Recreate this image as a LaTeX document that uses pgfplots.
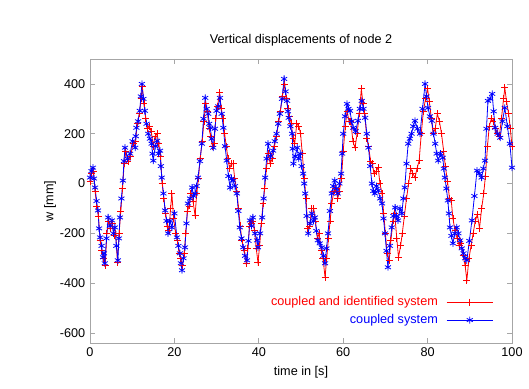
\documentclass[border=0pt]{standalone}
\usepackage{fontspec}
\setmainfont{Liberation Sans}
\usepackage{pgfplots}
\usepackage{pgfplotstable}
\pgfplotsset{compat=1.18}
\pgfplotstableread{
0 10
0.4 40
0.8 50
1.2 -30
1.6 -90
2.0 -130
2.4 -230
2.8 -270
3.2 -300
3.6 -330
4.0 -200
4.4 -150
4.8 -180
5.3 -160
5.7 -210
6.1 -200
6.5 -316
6.9 -200
7.3 -110
7.7 -20
8.1 80
8.5 130
9.0 90
9.6 110
10.2 160
10.8 170
11.2 240
11.7 280
12.1 340
12.4 390
12.8 320
13.2 260
13.6 220
14.0 230
14.5 210
15.0 150
15.4 190
15.9 200
16.3 160
16.7 110
17.1 0
17.5 -60
17.9 -120
18.3 -170
18.7 -190
19.1 -100
19.4 -40
19.8 -140
20.3 -200
20.7 -230
21.1 -280
21.5 -300
21.9 -330
22.3 -280
22.7 -200
23.1 -110
23.5 -90
23.9 -40
24.4 -70
24.9 -128
25.3 -40
25.7 20
26.1 100
26.6 170
27.0 250
27.4 320
27.8 290
28.2 220
28.6 190
29.0 150
29.4 160
29.8 260
30.2 310
30.7 364
31.1 300
31.5 260
31.9 200
32.3 150
32.7 100
33.1 60
33.5 80
33.9 80
34.3 20
34.8 -30
35.2 -100
35.6 -170
36.0 -230
36.5 -270
37.0 -320
37.4 -260
37.8 -170
38.2 -160
38.6 -150
39.0 -190
39.4 -260
39.8 -316
40.2 -250
40.6 -160
41.0 -80
41.4 -20
41.8 60
42.2 120
42.7 80
43.2 100
43.7 150
44.2 190
44.7 250
45.1 290
45.6 350
46.0 400
46.5 340
46.9 300
47.3 270
47.7 240
48.1 180
48.5 160
49.0 240
49.5 230
49.9 200
50.3 120
50.8 20
51.2 -60
51.6 -180
52.1 -170
52.5 -100
53.0 -100
53.4 -150
53.9 -220
54.3 -200
54.8 -270
55.2 -300
55.7 -376
56.1 -300
56.5 -220
56.9 -150
57.3 -80
57.8 -30
58.2 -20
58.7 -60
59.1 -30
59.6 20
60.0 130
60.5 230
60.9 290
61.4 250
61.8 250
62.3 170
62.8 144
63.3 200
63.8 280
64.3 380
64.7 320
65.1 280
65.6 180
66.0 150
66.5 90
66.9 80
67.3 40
67.8 50
68.3 64
68.7 0
69.2 -40
69.6 -120
70.0 -200
70.4 -280
70.9 -310
71.3 -230
71.8 -150
72.2 -120
72.7 -220
73.1 -296
73.6 -250
74.0 -200
74.5 -130
75.0 -60
75.5 0
76.0 60
76.5 40
77.0 24
77.5 60
78.0 92
78.5 200
79.0 290
79.5 340
80.0 380
80.4 330
80.9 260
81.3 200
81.8 220
82.3 280
82.8 250
83.3 200
83.8 130
84.2 70
84.7 10
85.2 -60
85.6 -68
86.0 -140
86.5 -190
87.0 -220
87.5 -250
87.9 -240
88.4 -290
88.9 -330
89.3 -388
89.8 -300
90.3 -250
90.8 -200
91.3 -150
91.8 -124
92.3 -180
92.8 -100
93.3 -40
93.7 30
94.2 150
94.6 230
95.1 260
95.5 250
96.0 220
96.5 200
97.0 190
97.5 260
98.0 340
98.3 384
98.7 330
99.2 280
99.6 220
100 150
}\redData
\pgfplotstableread{
0 24
0.35 50
0.7 64
0.95 20
1.2 -16
1.55 -70
1.9 -108
2.15 -180
2.4 -216
2.75 -250
3.1 -296
3.3 -280
3.5 -320
3.9 -220
4.3 -136
4.75 -170
5.2 -148
5.55 -200
5.9 -176
6.25 -250
6.6 -308
6.85 -220
7.1 -136
7.45 -60
7.8 12
8.05 90
8.3 144
8.9 100
9.5 120
10.1 170
10.7 144
10.85 190
11.0 224
11.4 250
11.8 292
12.05 350
12.3 400
12.65 340
13.0 292
13.4 240
13.8 200
14.2 180
14.6 160
14.8 120
15.0 92
15.45 150
15.9 172
16.25 120
16.6 132
16.8 70
17.0 24
17.4 -40
17.8 -108
18.15 -150
18.5 -200
18.95 -150
19.4 -176
20.0 -120
20.6 -216
20.95 -250
21.3 -280
21.55 -320
21.8 -348
22.15 -300
22.5 -256
22.85 -160
23.2 -80
23.7 -60
24.2 -16
24.55 -50
24.9 -40
25.25 -10
25.6 24
26.05 90
26.5 160
26.9 260
27.3 344
27.65 300
28.0 280
28.25 240
28.5 224
28.85 180
29.2 144
29.6 220
30.0 292
30.4 310
30.8 344
31.2 280
31.6 224
32.0 150
32.4 92
32.8 30
33.2 -16
33.55 20
33.9 12
34.35 -10
34.8 -40
35.15 -110
35.5 -176
35.9 -220
36.3 -256
36.75 -290
37.2 -308
37.55 -230
37.9 -148
38.25 -170
38.6 -136
39.1 -200
39.6 -228
39.8 -256
40.3 -200
40.8 -136
41.15 -60
41.5 24
41.85 100
42.2 160
42.8 110
43.4 132
43.8 170
44.2 200
44.6 240
45.0 280
45.5 340
46.0 420
46.35 370
46.7 332
46.9 290
47.1 264
47.5 230
47.9 200
48.05 140
48.2 80
48.65 110
49.1 144
49.45 100
49.8 120
50.15 70
50.5 40
50.75 0
51.0 -40
51.35 -130
51.7 -200
52.15 -160
52.6 -120
52.95 -150
53.3 -136
53.65 -190
54.0 -228
54.45 -240
54.9 -256
55.3 -290
55.7 -320
56.05 -260
56.4 -200
56.85 -110
57.3 -40
57.65 -10
58.0 12
58.35 -20
58.7 -40
59.1 0
59.5 40
59.75 120
60.0 200
60.45 270
60.9 320
61.25 300
61.6 292
62.0 250
62.4 224
62.95 210
63.5 252
63.95 300
64.4 332
64.8 300
65.2 264
65.6 200
66.0 144
66.4 70
66.8 0
67.15 -30
67.5 -40
67.9 -10
68.3 -28
68.75 -60
69.2 -80
69.55 -140
69.9 -200
70.25 -270
70.6 -336
71.05 -250
71.5 -176
71.9 -130
72.3 -96
72.65 -130
73.0 -148
73.45 -100
73.9 -120
74.25 -60
74.6 -16
75.0 80
75.4 160
75.8 180
76.2 200
76.6 230
77.0 252
77.6 220
78.2 200
78.8 300
79.4 400
79.75 350
80.1 304
80.55 270
81.0 252
81.4 200
81.8 160
82.15 120
82.5 92
83.05 120
83.6 104
83.85 60
84.1 24
84.45 -20
84.8 -68
85.05 -120
85.3 -176
85.65 -210
86.0 -240
86.45 -200
86.9 -176
87.3 -200
87.7 -228
88.1 -260
88.5 -280
88.9 -300
89.3 -308
89.9 -230
90.5 -148
91.1 -50
91.7 52
92.25 40
92.8 24
93.2 60
93.6 92
93.95 220
94.3 332
94.8 340
95.3 360
95.65 290
96.0 224
96.6 200
97.2 184
97.75 250
98.3 304
98.9 230
99.5 160
100 64
}\blueData
\begin{document}
\begin{tikzpicture}
\begin{axis}[
  width=316.5pt, height=213pt,
  scale only axis,
  xmin=0, xmax=100, ymin=-640, ymax=500,
  xtick={0,20,...,100},
  ytick={-600,-400,...,400},
  tick align=inside,
  axis line style={gray!70, line width=0.6pt},
  tick style={gray!70, line width=0.5pt},
  major tick length=4pt,
  /pgf/number format/assume math mode=true,
  ticklabel style={font=\fontsize{9.5}{11}\selectfont},
  label style={font=\fontsize{9.5}{11}\selectfont},
  title style={font=\fontsize{9.5}{11}\selectfont},
  title={Vertical displacements of node 2},
  xlabel={time in [s]},
  ylabel={w [mm]},
  ylabel style={yshift=-4pt},
]
\addplot[red, line width=0.6pt, mark=none] table[x index=0, y index=1] {\redData};
\addplot[red, only marks, mark=+, mark size=2.6pt, mark options={line width=0.6pt}] table[x index=0, y index=1] {\redData};
\addplot[blue, line width=0.6pt, mark=none] table[x index=0, y index=1] {\blueData};
\addplot[blue, only marks, mark=asterisk, mark size=2.6pt, mark options={line width=0.6pt}] table[x index=0, y index=1] {\blueData};
\addplot[red, line width=0.6pt, mark=+, mark size=2.6pt, mark repeat=2, mark phase=2] coordinates {(84.5,-476)(90,-476)(95.5,-476)};
\addplot[blue, line width=0.6pt, mark=asterisk, mark size=2.6pt, mark repeat=2, mark phase=2] coordinates {(84.5,-548)(90,-548)(95.5,-548)};
\node[anchor=east, text=red, font=\fontsize{9.5}{11}\selectfont, inner sep=0pt] at (axis cs:82.5,-476) {coupled and identified system};
\node[anchor=east, text=blue, font=\fontsize{9.5}{11}\selectfont, inner sep=0pt] at (axis cs:82.5,-548) {coupled system};
\end{axis}
\pgfresetboundingbox
\path (current axis.south west) ++(-67.5pt,-34.5pt) coordinate (bbA);
\path (current axis.north east) ++(12.75pt,44.25pt) coordinate (bbB);
\path[use as bounding box] (bbA) rectangle (bbB);
\end{tikzpicture}
\end{document}
